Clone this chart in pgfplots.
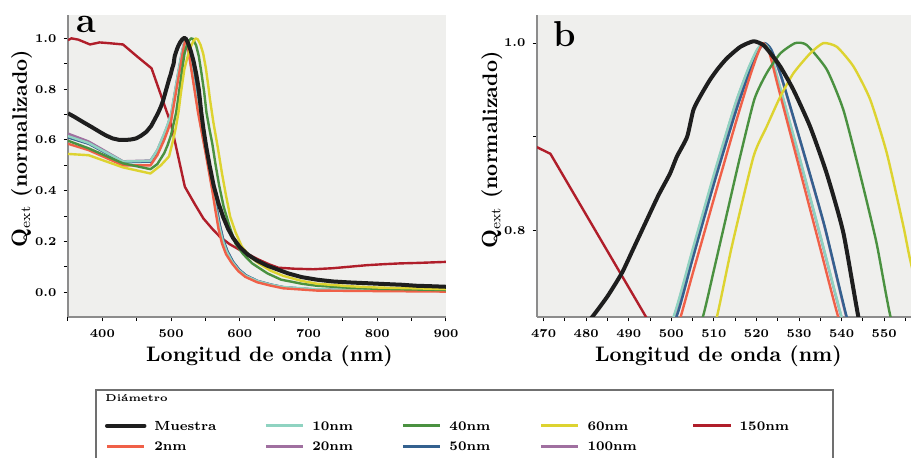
\documentclass[border=0pt]{standalone}
\usepackage{pgfplots}
\pgfplotsset{compat=1.18}
\usepackage{pgfplotstable}

\definecolor{bggray}{HTML}{EFEFED}
\definecolor{axgray}{HTML}{8C8C8C}
\definecolor{lggray}{HTML}{707070}
\definecolor{cM}{HTML}{1E1E1E}
\definecolor{cTwo}{HTML}{F06048}
\definecolor{cTen}{HTML}{8FD3C1}
\definecolor{cTwenty}{HTML}{A070A0}
\definecolor{cForty}{HTML}{4A9140}
\definecolor{cFifty}{HTML}{34618F}
\definecolor{cSixty}{HTML}{DDD330}
\definecolor{cHundred}{HTML}{A070A0}
\definecolor{cOneFifty}{HTML}{B01E2A}

\pgfplotstableread{
x y
350 0.705
360 0.690
371 0.672
385 0.650
396 0.632
405 0.618
415 0.606
425 0.600
434 0.600
442 0.602
449 0.606
456 0.616
464 0.632
471 0.655
477 0.685
481.4 0.708
485 0.730
488.4 0.755
491 0.780
494.3 0.812
497 0.838
499.7 0.861
501.3 0.879
503.7 0.900
505.2 0.929
507 0.945
509.1 0.961
511 0.973
513.1 0.984
516.2 0.996
519.3 1.002
521.6 0.998
523.5 0.988
525.6 0.975
528.7 0.950
532.6 0.911
536.5 0.861
540.4 0.798
543.9 0.709
547 0.645
551 0.575
556 0.500
562 0.420
569 0.350
576 0.295
583 0.250
590 0.215
600 0.178
612 0.148
625 0.125
640 0.105
655 0.090
670 0.075
690 0.060
712 0.050
735 0.043
760 0.039
785 0.036
809 0.033
835 0.030
857 0.026
880 0.024
900 0.022
}\tMuestra

\pgfplotstableread{
x y
350 0.585
380 0.560
430 0.500
470 0.500
480 0.540
490 0.600
495 0.636
500 0.675
505 0.754
510 0.834
515 0.913
518 0.958
520 0.985
521.5 1.000
523 0.990
525 0.955
530 0.868
535 0.781
539.2 0.708
545 0.625
550 0.553
554.7 0.481
560 0.400
564.4 0.324
569 0.250
574 0.193
580 0.150
588.6 0.114
598 0.083
608 0.061
625 0.040
644 0.027
663 0.016
712 0.007
800 0.005
900 0.003
}\tTwo

\pgfplotstableread{
x y
350 0.615
380 0.588
430 0.515
470 0.518
480 0.560
490 0.625
495 0.660
500.5 0.708
505 0.780
510 0.860
515 0.935
518 0.972
520 0.992
521.5 1.000
523 0.993
525 0.962
530 0.880
535 0.795
540 0.708
545 0.632
550 0.560
555 0.487
560 0.410
565 0.333
570 0.262
575 0.205
581 0.160
589 0.120
598 0.089
608 0.066
625 0.045
644 0.031
663 0.021
712 0.012
800 0.009
900 0.008
}\tTen

\pgfplotstableread{
x y
350 0.625
380 0.594
430 0.516
470 0.519
480 0.560
490 0.624
495 0.659
500.6 0.708
505 0.778
510 0.858
515 0.934
518 0.971
520 0.991
521.5 1.000
523 0.992
525 0.961
530 0.879
535 0.794
540 0.707
545 0.631
550 0.559
555 0.486
560 0.409
565 0.332
570 0.261
575 0.204
581 0.159
589 0.119
598 0.088
608 0.065
625 0.044
644 0.030
663 0.020
712 0.011
800 0.009
900 0.008
}\tTwenty

\pgfplotstableread{
x y
350 0.597
380 0.567
430 0.508
470 0.485
480 0.505
490 0.548
495 0.580
500 0.620
504 0.668
507.4 0.708
510 0.758
513 0.817
516 0.876
519.5 0.940
522.4 0.968
525.6 0.989
529.1 1.000
531.8 0.998
536.5 0.972
540.4 0.929
544.3 0.861
548.2 0.787
551.5 0.708
556 0.640
560 0.585
564.4 0.508
570 0.420
576.5 0.337
585 0.260
593.5 0.193
605 0.150
618 0.114
640 0.075
660 0.050
690 0.034
712 0.026
760 0.018
800 0.014
900 0.009
}\tForty

\pgfplotstableread{
x y
350 0.610
380 0.585
430 0.512
470 0.515
480 0.555
490 0.615
495 0.650
501.2 0.708
505 0.770
510 0.850
515 0.925
518 0.965
520 0.988
521.8 1.000
523.5 0.993
526 0.962
531 0.885
536 0.805
541.2 0.708
546 0.635
551 0.563
556 0.490
561 0.413
566 0.336
571 0.264
576 0.206
582 0.162
590 0.121
599 0.090
609 0.067
626 0.045
645 0.031
664 0.020
712 0.010
800 0.007
900 0.006
}\tFifty

\pgfplotstableread{
x y
350 0.545
380 0.540
430 0.492
470 0.468
485 0.500
497 0.535
503 0.600
507 0.650
510.7 0.708
514.2 0.783
519.3 0.879
522.4 0.911
525.6 0.943
528.7 0.968
532.6 0.989
535.7 1.000
538.9 0.996
542.8 0.975
546.7 0.940
550.6 0.883
554.5 0.805
556.3 0.765
561.5 0.670
568 0.570
574 0.469
580 0.380
586 0.298
594 0.235
603 0.180
615 0.140
627.5 0.114
645 0.085
663 0.065
690 0.045
712 0.034
760 0.024
800 0.019
900 0.013
}\tSixty

\pgfplotstableread{
x y
350 0.622
380 0.591
430 0.514
470 0.517
480 0.556
490 0.616
495 0.651
501.1 0.708
505 0.771
510 0.851
515 0.926
518 0.966
520 0.989
521.8 1.000
523.5 0.992
526 0.961
531 0.884
536 0.804
541.1 0.708
546 0.634
551 0.562
556 0.489
561 0.412
566 0.335
571 0.263
576 0.205
582 0.161
590 0.120
599 0.089
609 0.066
626 0.044
645 0.030
664 0.020
712 0.010
800 0.008
900 0.007
}\tHundred

\pgfplotstableread{
x y
350 0.993
355 1.000
365 0.995
382 0.976
396 0.984
410 0.981
430 0.976
450 0.930
468 0.890
471.6 0.882
500 0.662
520 0.416
535 0.345
547 0.291
560 0.250
571 0.219
585 0.190
600 0.167
615 0.146
629 0.127
643 0.110
656 0.097
680 0.093
707 0.091
735 0.095
760 0.101
785 0.107
810 0.111
833 0.114
860 0.116
900 0.120
}\tOneFifty

\pgfplotsset{
  panel/.style={
    scale only axis, height=151pt,
    axis background/.style={fill=bggray},
    axis x line*=bottom, axis y line*=left,
    axis line style={draw=axgray, line width=1pt, -},
    tick align=outside,
    major tick length=2.2pt, minor tick length=2pt,
    every tick/.style={black, line width=0.5pt},
    tick label style={font=\bfseries\fontsize{6}{7}\selectfont},
    xticklabel={\pgfmathprintnumber[assume math mode=true]{\tick}},
    yticklabel={\pgfmathprintnumber[assume math mode=true,fixed,fixed zerofill,precision=1]{\tick}},
    xticklabel style={yshift=-0.5pt},
    xlabel={Longitud de onda (nm)},
    ylabel={$\mathbf{Q}_{\mathrm{ext}}$ (normalizado)},
    every axis y label/.style={rotate=90, anchor=center, font=\bfseries\fontsize{10.5}{12}\selectfont},
    every axis x label/.style={anchor=center, font=\bfseries\fontsize{10.5}{12}\selectfont},
    every axis plot/.append style={line width=1.2pt, line join=round},
  },
}

\begin{document}
\begin{tikzpicture}
% ---------------- panel a ----------------
\begin{axis}[panel,
  at={(34pt,-158.5pt)}, anchor=south west, width=189pt,
  xmin=350, xmax=900, ymin=-0.097, ymax=1.092,
  xtick={400,500,...,900}, minor xtick={350,450,...,850},
  ytick={0,0.2,...,1.0}, minor ytick={0.1,0.3,...,0.9},
  x label style={at={(axis description cs:0.533,-0.129)}},
  y label style={at={(axis description cs:-0.123,0.558)}},
  legend columns=5,
  legend cell align=left,
  legend image code/.code={\draw[#1] (0pt,0pt) -- (18.75pt,0pt);},
  legend style={at={(axis description cs:0.0968,-0.343)}, anchor=north west,
    draw=none, fill=none, inner sep=0pt, row sep=5.6pt,
    nodes={inner sep=0pt, font=\bfseries\fontsize{6.6}{7.5}\selectfont, text height=4.6pt, text depth=0.2pt},
    /tikz/every odd column/.append style={column sep=3.9pt},
    /tikz/every even column/.append style={column sep=0pt}},
]
\addplot[color=cOneFifty, forget plot] table {\tOneFifty};
\addplot[color=cHundred, forget plot] table {\tHundred};
\addplot[color=cTwenty, forget plot] table {\tTwenty};
\addplot[color=cFifty, forget plot] table {\tFifty};
\addplot[color=cTen, forget plot] table {\tTen};
\addplot[color=cTwo, forget plot] table {\tTwo};
\addplot[color=cForty, forget plot] table {\tForty};
\addplot[color=cSixty, forget plot] table {\tSixty};
\addplot[color=cM, line width=2pt, forget plot] table {\tMuestra};

\addlegendimage{color=cM, line width=2pt, line cap=round}
\addlegendentry{\makebox[55.1pt][l]{Muestra}}
\addlegendimage{color=cTen, line width=1.3pt}
\addlegendentry{\makebox[44.6pt][l]{10nm}}
\addlegendimage{color=cForty, line width=1.3pt}
\addlegendentry{\makebox[45.1pt][l]{40nm}}
\addlegendimage{color=cSixty, line width=1.3pt}
\addlegendentry{\makebox[52.1pt][l]{60nm}}
\addlegendimage{color=cOneFifty, line width=1.3pt}
\addlegendentry{\makebox[25pt][l]{150nm}}
\addlegendimage{color=cTwo, line width=1.3pt}
\addlegendentry{\makebox[55.1pt][l]{2nm}}
\addlegendimage{color=cTwenty, line width=1.3pt}
\addlegendentry{\makebox[44.6pt][l]{20nm}}
\addlegendimage{color=cFifty, line width=1.3pt}
\addlegendentry{\makebox[45.1pt][l]{50nm}}
\addlegendimage{color=cHundred, line width=1.3pt}
\addlegendentry{\makebox[52.1pt][l]{100nm}}
\end{axis}

% ---------------- panel b ----------------
\begin{axis}[panel,
  at={(268.5pt,-158.5pt)}, anchor=south west, width=187pt,
  xmin=468.45, xmax=556.3, ymin=0.708, ymax=1.030,
  xtick={470,480,...,550}, minor xtick={475,485,...,555},
  ytick={0.8,1.0}, minor ytick={0.9},
  x label style={at={(axis description cs:0.485,-0.129)}},
  y label style={at={(axis description cs:-0.121,0.553)}},
  every axis plot/.append style={smooth, tension=0.35},
]
\addplot[color=cOneFifty, sharp plot] table {\tOneFifty};
\addplot[color=cHundred] table {\tHundred};
\addplot[color=cTwenty] table {\tTwenty};
\addplot[color=cFifty] table {\tFifty};
\addplot[color=cTen] table {\tTen};
\addplot[color=cTwo] table {\tTwo};
\addplot[color=cForty] table {\tForty};
\addplot[color=cSixty] table {\tSixty};
\addplot[color=cM, line width=2pt] table {\tMuestra};
\end{axis}

% panel letters
\node[anchor=base west, font=\bfseries\fontsize{18}{20}\selectfont, inner sep=0pt] at (38pt,-16.5pt) {a};
\node[anchor=base west, font=\bfseries\fontsize{18}{20}\selectfont, inner sep=0pt] at (276.5pt,-23.35pt) {b};

% legend frame and title
\draw[lggray, line width=0.6pt] (48pt,-195pt) rectangle (416.5pt,-245pt);
\node[anchor=base west, inner sep=0pt, font=\bfseries\fontsize{5}{6}\selectfont] at (52.5pt,-201pt) {Diámetro};

\pgfresetboundingbox
\useasboundingbox (0pt,0pt) rectangle (455.5pt,-229pt);
\end{tikzpicture}
\end{document}
